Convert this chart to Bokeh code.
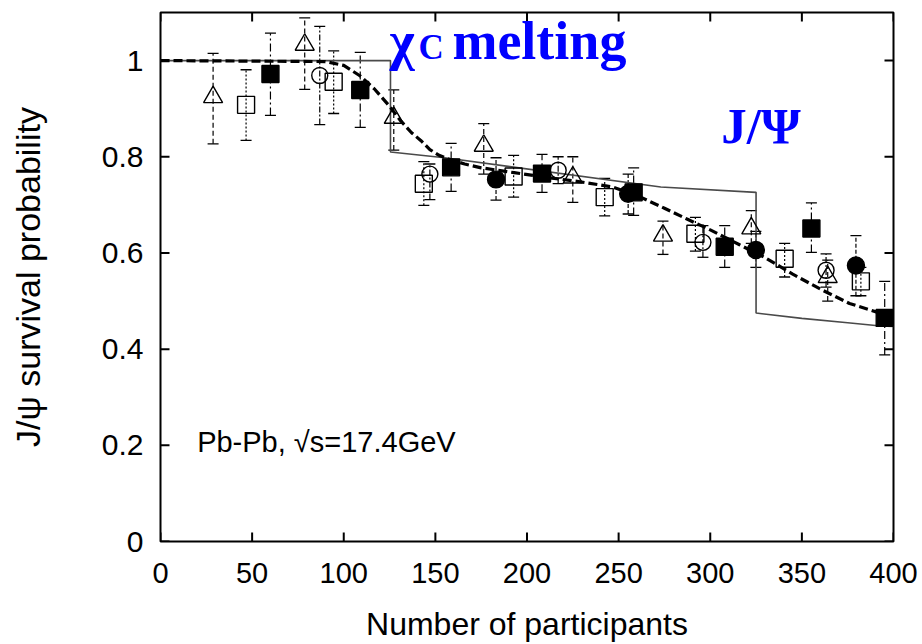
from bokeh.plotting import figure
from bokeh.models import ColumnDataSource, Whisker, TeeHead, Label, FixedTicker, Range1d
from bokeh.embed import file_html
from bokeh.resources import INLINE

# --- measured J/psi survival probabilities (Npart, value, upper, lower) ---
tri_x = [28.7, 78.7, 127.3, 176.4, 225.0, 274.2, 322.4, 364.1]
tri_y = [0.924, 1.033, 0.881, 0.823, 0.757, 0.636, 0.651, 0.550]
tri_hi = [1.015, 1.089, 0.939, 0.869, 0.800, 0.666, 0.688, 0.585]
tri_lo = [0.827, 0.940, 0.814, 0.764, 0.705, 0.597, 0.620, 0.500]

osq_x = [46.7, 94.5, 143.7, 192.7, 242.4, 291.9, 340.6, 382.2]
osq_y = [0.908, 0.956, 0.744, 0.759, 0.716, 0.640, 0.588, 0.541]
osq_hi = [0.981, 1.020, 0.790, 0.803, 0.755, 0.674, 0.620, 0.570]
osq_lo = [0.834, 0.890, 0.699, 0.716, 0.677, 0.604, 0.550, 0.511]

ocir_x = [86.9, 147.0, 217.0, 296.0, 363.2]
ocir_y = [0.969, 0.764, 0.772, 0.622, 0.564]
ocir_hi = [1.071, 0.785, 0.800, 0.657, 0.598]
ocir_lo = [0.867, 0.711, 0.744, 0.591, 0.529]

fsq_x = [60.0, 109.0, 158.6, 208.2, 258.2, 307.9, 355.2, 395.2]
fsq_y = [0.972, 0.939, 0.778, 0.765, 0.726, 0.613, 0.651, 0.465]
fsq_hi = [1.057, 1.017, 0.828, 0.805, 0.777, 0.657, 0.704, 0.541]
fsq_lo = [0.886, 0.861, 0.728, 0.726, 0.678, 0.570, 0.601, 0.388]

fcir_x = [183.1, 255.2, 324.9, 379.5]
fcir_y = [0.753, 0.723, 0.606, 0.574]
fcir_hi = [0.798, 0.764, 0.645, 0.636]
fcir_lo = [0.710, 0.681, 0.570, 0.511]

# --- model curves ---
smooth_x = [0, 90, 100, 109, 117, 125, 131, 137, 142, 147, 152, 158, 166, 175,
            193, 211, 229, 247, 262, 275, 287, 300, 316, 330, 345, 360, 376, 391, 396]
smooth_y = [1.0, 0.998, 0.99, 0.968, 0.94, 0.905, 0.875, 0.85, 0.834, 0.815, 0.803,
            0.794, 0.785, 0.777, 0.767, 0.757, 0.748, 0.737, 0.716, 0.693, 0.671,
            0.648, 0.617, 0.59, 0.556, 0.525, 0.495, 0.477, 0.473]

step_x = [0, 125.5, 125.5, 155, 273, 325, 325, 350, 375, 393, 400]
step_y = [1.0, 1.0, 0.81, 0.798, 0.737, 0.726, 0.475, 0.464, 0.455, 0.448, 0.447]

x_ticks = [0, 50, 100, 150, 200, 250, 300, 350, 400]
y_ticks = [0, 0.2, 0.4, 0.6, 0.8, 1.0]
y_tick_labels = {0: "0", 0.2: "0.2", 0.4: "0.4", 0.6: "0.6", 0.8: "0.8", 1.0: "1"}

X_MIN, X_MAX = 0, 400
Y_MIN, Y_MAX = 0, 1.1

# plot frame in pixels, used to size the inward tick marks
FRAME_W, FRAME_H = 733, 529
TICK_PX = 9

SANS = "Liberation Sans"
SERIF = "Liberation Serif"
BLUE = "#0000ff"

p = figure(width=922, height=644, output_backend="svg", toolbar_location=None,
           x_range=Range1d(X_MIN, X_MAX), y_range=Range1d(Y_MIN, Y_MAX),
           min_border_left=160, min_border_right=29, min_border_top=12,
           min_border_bottom=103)
p.grid.visible = False
p.outline_line_color = "black"
p.outline_line_width = 2
p.background_fill_color = "white"
p.border_fill_color = "white"

p.xaxis.ticker = FixedTicker(ticks=x_ticks)
p.yaxis.ticker = FixedTicker(ticks=y_ticks)
p.yaxis.major_label_overrides = y_tick_labels
for ax in (p.xaxis[0], p.yaxis[0]):
    ax.axis_line_color = None
    ax.major_tick_in = 0
    ax.major_tick_out = 0
    ax.major_tick_line_color = None
    ax.minor_tick_line_color = None
    ax.major_label_text_color = "black"
    ax.axis_label_text_color = "black"
    ax.axis_label_text_font_style = "normal"

p.xaxis.major_label_text_font = SANS
p.xaxis.major_label_text_font_size = "29px"
p.xaxis.major_label_standoff = 21
p.xaxis.axis_label = "Number of participants"
p.xaxis.axis_label_text_font = SANS
p.xaxis.axis_label_text_font_size = "32px"
p.xaxis.axis_label_standoff = 20

p.yaxis.major_label_text_font = SANS
p.yaxis.major_label_text_font_size = "30px"
p.yaxis.major_label_standoff = 17
p.yaxis.axis_label = "J/ψ survival probability"
p.yaxis.axis_label_text_font = SANS
p.yaxis.axis_label_text_font_size = "34px"
p.yaxis.axis_label_standoff = 52

# inward tick marks on all four sides of the frame
dy = TICK_PX * (Y_MAX - Y_MIN) / FRAME_H
dx = TICK_PX * (X_MAX - X_MIN) / FRAME_W
tick_src_x = ColumnDataSource(dict(
    x=x_ticks + x_ticks,
    y0=[Y_MIN] * len(x_ticks) + [Y_MAX] * len(x_ticks),
    y1=[Y_MIN + dy] * len(x_ticks) + [Y_MAX - dy] * len(x_ticks)))
tick_src_y = ColumnDataSource(dict(
    y=y_ticks + y_ticks,
    x0=[X_MIN] * len(y_ticks) + [X_MAX] * len(y_ticks),
    x1=[X_MIN + dx] * len(y_ticks) + [X_MAX - dx] * len(y_ticks)))
p.segment(x0="x", y0="y0", x1="x", y1="y1", source=tick_src_x,
          line_color="black", line_width=2)
p.segment(x0="x0", y0="y", x1="x1", y1="y", source=tick_src_y,
          line_color="black", line_width=2)

# model curves
p.line(step_x, step_y, line_color="#4a4a4a", line_width=1.6)
p.line(smooth_x, smooth_y, line_color="black", line_width=3.2, line_dash="9 4")


def series(xs, ys, his, los, marker, size, filled, dash):
    src = ColumnDataSource(dict(x=xs, y=ys, hi=his, lo=los))
    p.add_layout(Whisker(source=src, base="x", upper="hi", lower="lo",
                         line_color="black", line_width=1.2, line_dash=dash,
                         upper_head=TeeHead(size=11, line_color="black", line_width=1.3),
                         lower_head=TeeHead(size=11, line_color="black", line_width=1.3)))
    p.scatter("x", "y", source=src, marker=marker, size=size,
              line_color="black", line_width=1.4,
              fill_color="black" if filled else "white",
              fill_alpha=1.0 if filled else 0.0)


series(tri_x, tri_y, tri_hi, tri_lo, "triangle", 19, False, "5 3")
series(osq_x, osq_y, osq_hi, osq_lo, "square", 17, False, "2 2")
series(ocir_x, ocir_y, ocir_hi, ocir_lo, "circle", 16, False, "6 2 2 2")
series(fsq_x, fsq_y, fsq_hi, fsq_lo, "square", 17, True, "8 3 2 3")
series(fcir_x, fcir_y, fcir_hi, fcir_lo, "circle", 17, True, "4 2")

# annotations
p.add_layout(Label(x=124.9, y=1.041, text="χ", text_font=SERIF, text_font_size="54px",
                   text_font_style="bold", text_color=BLUE, text_baseline="alphabetic"))
p.add_layout(Label(x=140.8, y=1.028, text="C", text_font=SERIF, text_font_size="35px",
                   text_font_style="bold", text_color=BLUE, text_baseline="alphabetic"))
p.add_layout(Label(x=159.3, y=1.041, text="melting", text_font=SERIF, text_font_size="54px",
                   text_font_style="bold", text_color=BLUE, text_baseline="alphabetic"))
p.add_layout(Label(x=306.0, y=0.864, text="J/Ψ", text_font=SERIF, text_font_size="51px",
                   text_font_style="bold", text_color=BLUE, text_baseline="alphabetic"))
p.add_layout(Label(x=20.0, y=0.207, text="Pb-Pb, √s=17.4GeV", text_font=SANS,
                   text_font_size="29px", text_color="black", text_baseline="alphabetic"))

open("out.html", "w").write(file_html(p, INLINE))
